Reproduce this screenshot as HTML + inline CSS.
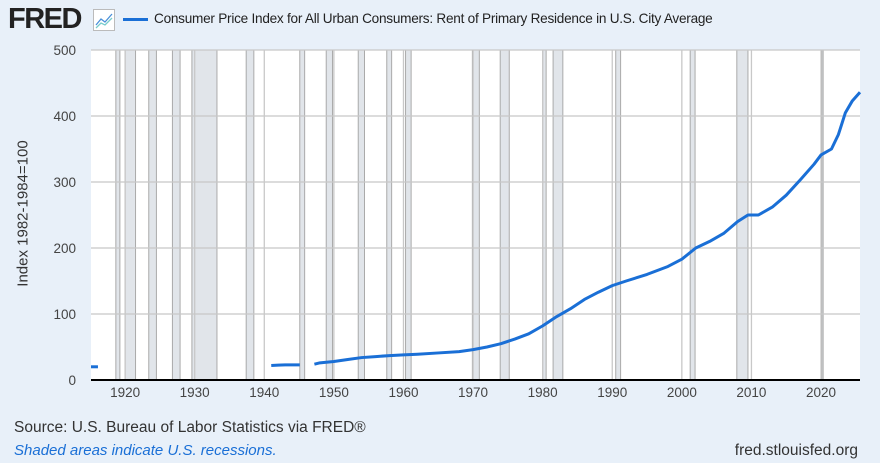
<!DOCTYPE html>
<html><head><meta charset="utf-8"><style>
body{margin:0;width:880px;height:463px;background:#e8f0f9;font-family:"Liberation Sans",sans-serif;overflow:hidden;position:relative}
.t{position:absolute;white-space:nowrap}
</style></head><body>
<div class="t" style="left:8px;top:3px;font-size:29px;font-weight:bold;letter-spacing:-1.5px;color:#222">FRED</div>
<svg class="t" style="left:93px;top:9px" width="22" height="22"><rect x="0.5" y="0.5" width="21" height="21" fill="#fff" stroke="#bbb"/><polyline points="3,16 8,10 12,13 19,5" fill="none" stroke="#4a90d9" stroke-width="1.3"/><polyline points="3,19 8,14 12,16 19,9" fill="none" stroke="#7cc" stroke-width="1.3"/></svg>
<div class="t" style="left:123px;top:18px;width:25px;height:3px;background:#1a6fd6"></div>
<div class="t" style="left:154px;top:11px;font-size:13.6px;letter-spacing:-0.25px;color:#222">Consumer Price Index for All Urban Consumers: Rent of Primary Residence in U.S. City Average</div>
<div class="t" style="left:-62px;top:205px;transform:rotate(-90deg);font-size:15px;color:#333;width:170px;text-align:center">Index 1982-1984=100</div>
<svg id="c" class="t" style="left:0;top:0" width="880" height="463"></svg>
<div class="t" style="left:14px;top:419px;font-size:15.5px;color:#333">Source: U.S. Bureau of Labor Statistics via FRED®</div>
<div class="t" style="left:14px;top:442px;font-size:15px;font-style:italic;color:#1a6fd6">Shaded areas indicate U.S. recessions.</div>
<div class="t" style="right:22px;top:442px;font-size:15.5px;color:#333">fred.stlouisfed.org</div>
<script>
const recStart=[1918.67,1920.0,1923.4,1926.8,1929.6,1937.4,1945.1,1948.9,1953.5,1957.6,1960.3,1969.9,1973.9,1980.0,1981.5,1990.5,2001.2,2007.9,2020.1];
const recEnd=[1919.25,1921.5,1924.5,1927.9,1933.2,1938.5,1945.8,1949.8,1954.4,1958.3,1961.1,1970.9,1975.2,1980.5,1982.9,1991.2,2001.9,2009.5,2020.3];
const seg1Years=[1915.1,1916.1];
const seg1Vals=[20,20];
const seg2Years=[1941,1942,1943,1944,1945.1];
const seg2Vals=[22,22.5,23,23,23];
const seg3Years=[1947.2,1948,1950,1952,1954,1956,1958,1960,1962,1965,1968,1970,1972,1974,1976,1978,1980,1982,1984,1986,1988,1990,1992,1995,1998,2000,2002,2004,2006,2008,2009.5,2011,2013,2015,2017,2019,2020,2021.5,2022.5,2023.5,2024.5,2025.6];
const seg3Vals=[24,26,28,31,34,35.5,37,38,39,41,43,46,50,55,62,70,82,96,108,122,133,143,150,160,172,183,200,210,222,240,250,250,262,280,303,327,341,350,372,405,423,436];
const yTicks=[0,100,200,300,400,500];
const xTicks=[1920,1930,1940,1950,1960,1970,1980,1990,2000,2010,2020];
const X0=91,X1=860,Y0=380,Y1=50,xmin=1915.1,xmax=2025.6;
const xs=v=>X0+(v-xmin)/(xmax-xmin)*(X1-X0);
const ys=v=>Y0-(v/500)*(Y0-Y1);
const svg=document.getElementById('c');const NS='http://www.w3.org/2000/svg';
function mk(t,a){const e=document.createElementNS(NS,t);for(const k in a)e.setAttribute(k,a[k]);svg.appendChild(e);return e;}
const bg=mk('rect',{x:X0,y:Y1,width:X1-X0,height:Y0-Y1,fill:'#fff'});


recStart.forEach((s,i)=>{const r=mk('rect',{x:xs(s),y:Y1,width:xs(recEnd[i])-xs(s),height:Y0-Y1,fill:'#e1e5ea',stroke:'#aaa','stroke-width':1});

});
yTicks.forEach(v=>{const l=mk('line',{x1:X0,x2:X1,y1:ys(v),y2:ys(v),stroke:'#c8c8c8','stroke-width':1.3});


const t=mk('text',{x:76,y:ys(v)+5,'text-anchor':'end','font-size':13.5,fill:'#444','font-family':'Liberation Sans'});t.textContent=v;

});
xTicks.forEach(v=>{const l=mk('line',{x1:xs(v),x2:xs(v),y1:Y1,y2:Y0,stroke:'#c8c8c8','stroke-width':1.3});


const t=mk('text',{x:xs(v),y:397,'text-anchor':'middle','font-size':13.5,fill:'#444','font-family':'Liberation Sans'});t.textContent=v;

});
const ax=mk('line',{x1:X0,x2:X1,y1:Y0,y2:Y0,stroke:'#000','stroke-width':2});


[[seg1Years,seg1Vals],[seg2Years,seg2Vals],[seg3Years,seg3Vals]].forEach(([yr,vl])=>{
const p=mk('polyline',{points:yr.map((y,i)=>xs(y)+','+ys(vl[i])).join(' '),fill:'none',stroke:'#1a6fd6','stroke-width':3,'stroke-linejoin':'round'});

});
</script>
</body></html>
